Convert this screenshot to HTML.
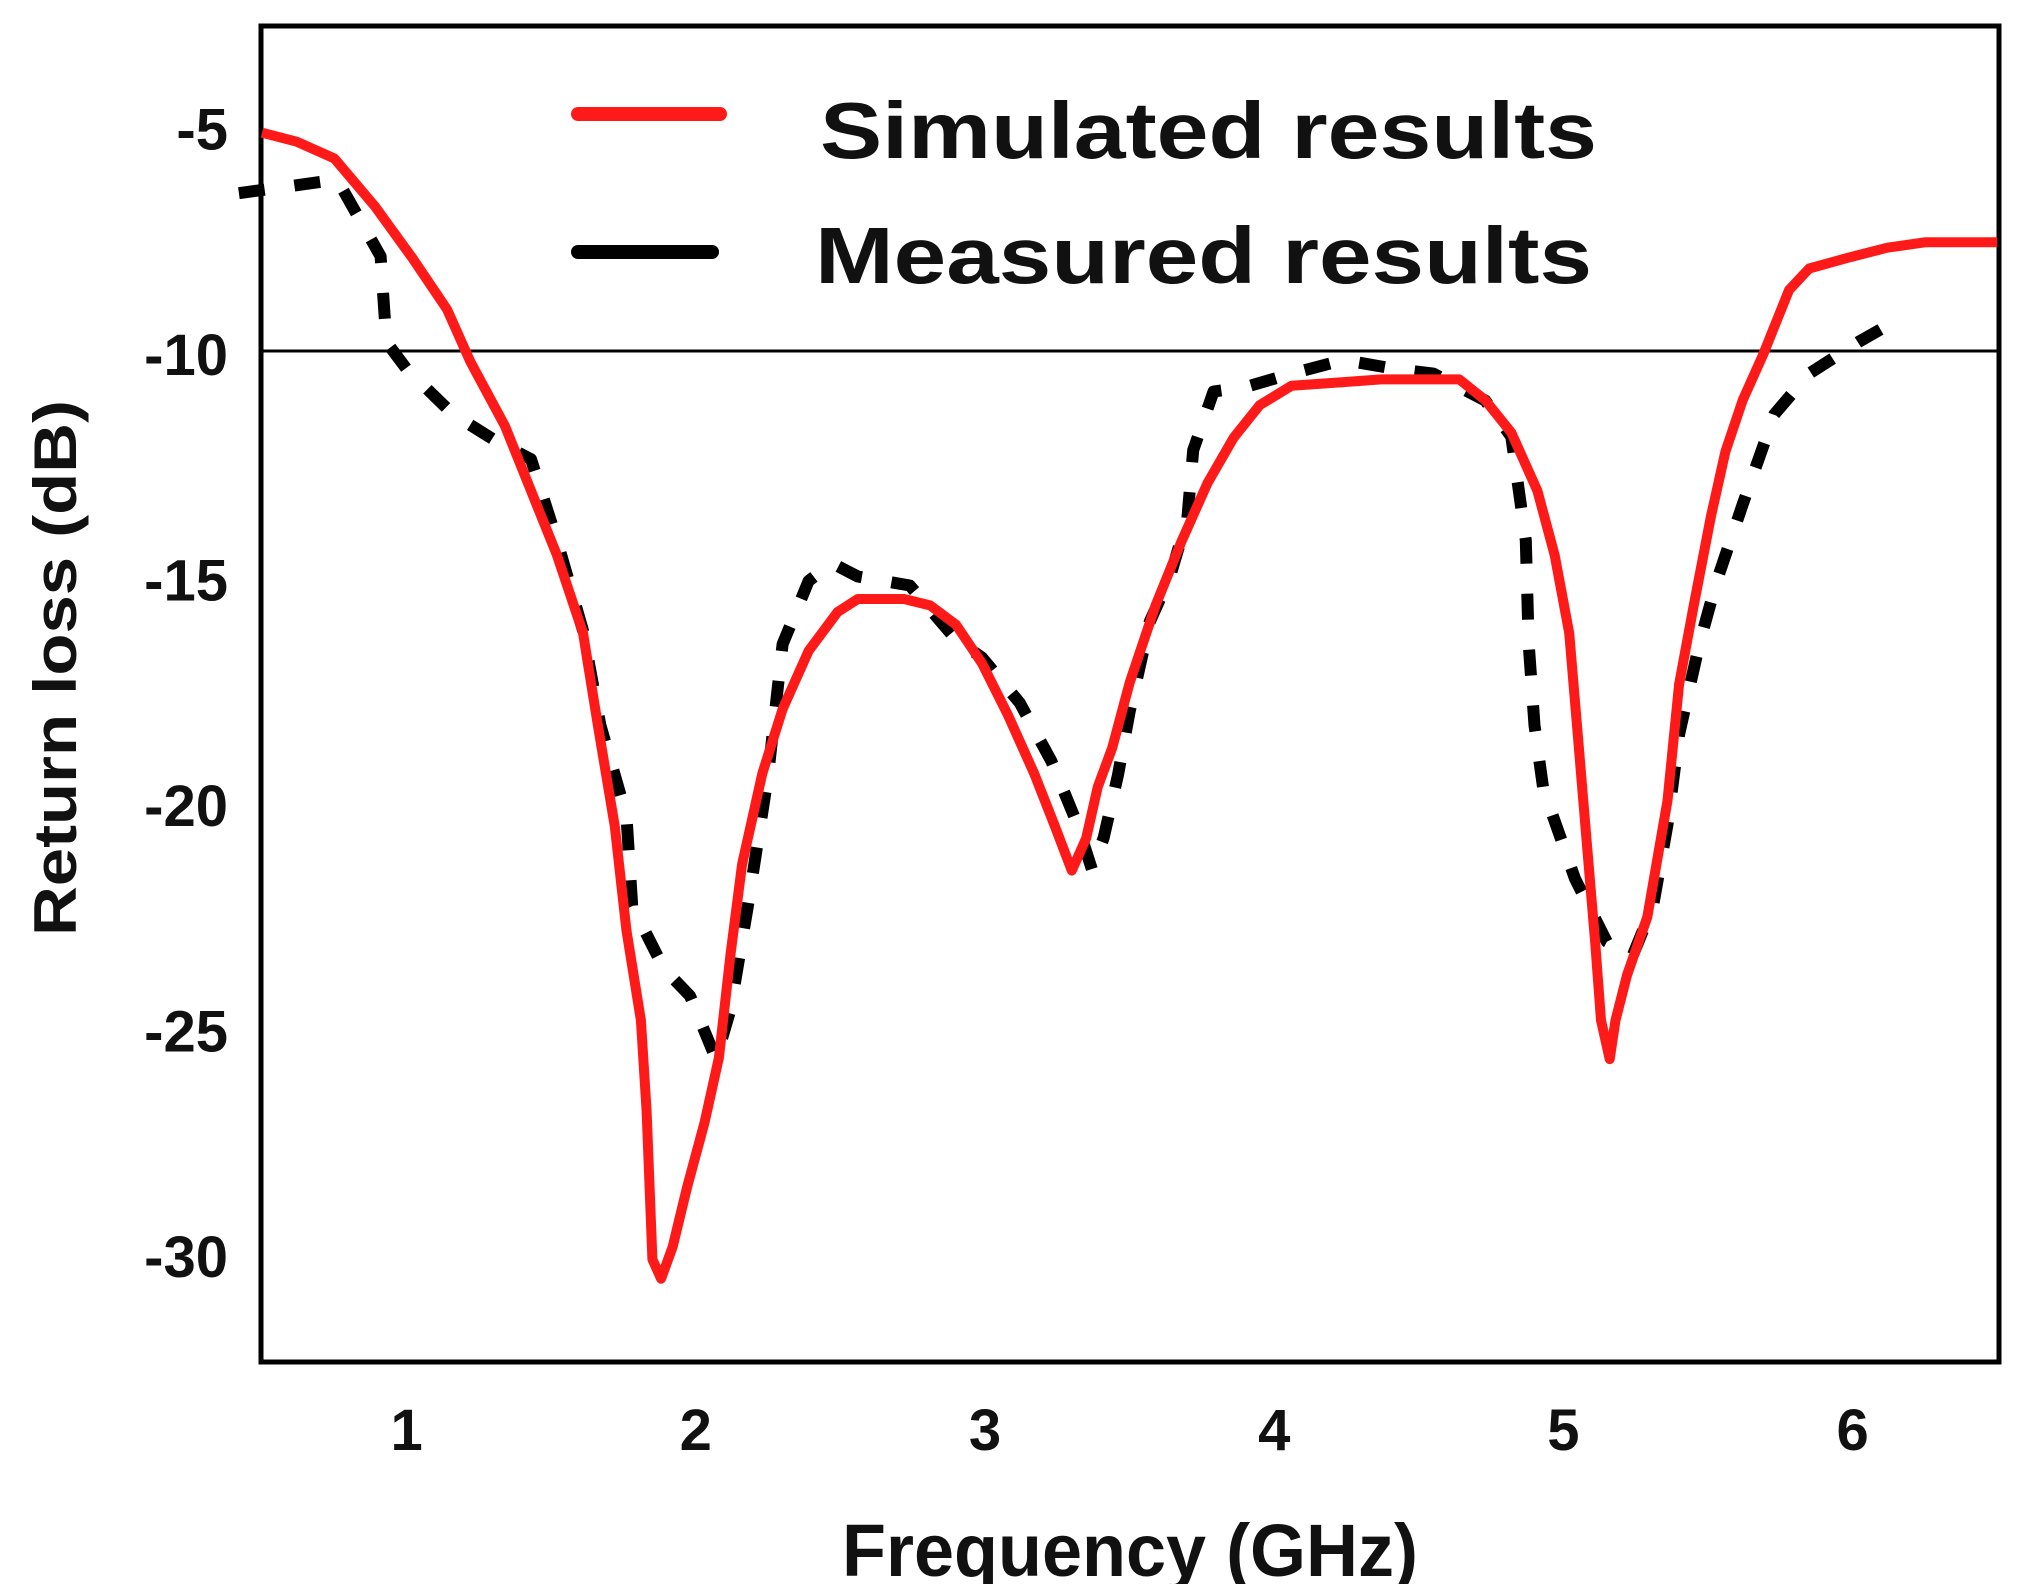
<!DOCTYPE html>
<html><head><meta charset="utf-8"><style>
html,body{margin:0;padding:0;background:#fff;}
svg{display:block;font-family:"Liberation Sans",Arial,sans-serif;}
</style></head><body>
<svg id="chart" width="2025" height="1584" viewBox="0 0 2025 1584" xmlns="http://www.w3.org/2000/svg">
<rect x="261" y="26" width="1738" height="1336" fill="none" stroke="#000" stroke-width="5"/>
<g id="grid"></g>
<g id="series"></g>
<g id="ticks"></g>
<g>
<line x1="578" y1="114" x2="720" y2="114" stroke="#ff1a1a" stroke-width="14" stroke-linecap="round"/>
<text x="820" y="158" font-size="80" font-weight="bold" fill="#111" textLength="777" lengthAdjust="spacingAndGlyphs">Simulated results</text>
<line x1="578" y1="252" x2="712" y2="252" stroke="#000" stroke-width="14" stroke-linecap="round"/>
<text x="815" y="283" font-size="80" font-weight="bold" fill="#111" textLength="777" lengthAdjust="spacingAndGlyphs">Measured results</text>
</g>
<text x="1130" y="1576" font-size="74" font-weight="bold" text-anchor="middle" fill="#111" textLength="576" lengthAdjust="spacingAndGlyphs">Frequency (GHz)</text>
<text transform="translate(76,668) rotate(-90)" font-size="60" font-weight="bold" text-anchor="middle" fill="#111" textLength="536" lengthAdjust="spacingAndGlyphs">Return loss (dB)</text>
</svg>
<script>
const xTicks = [1, 2, 3, 4, 5, 6];
const yTicks = [-5, -10, -15, -20, -25, -30];
const refLevel = [-10];
const simFreq = [0.50,0.62,0.75,0.89,1.02,1.14,1.22,1.34,1.43,1.52,1.61,1.66,1.72,1.76,1.81,1.83,1.85,1.88,1.92,1.97,2.03,2.08,2.12,2.16,2.23,2.30,2.39,2.49,2.56,2.72,2.81,2.90,2.99,3.08,3.17,3.24,3.30,3.35,3.39,3.44,3.50,3.59,3.68,3.77,3.86,3.95,4.06,4.24,4.37,4.64,4.73,4.82,4.91,4.97,5.02,5.05,5.08,5.11,5.13,5.16,5.18,5.22,5.29,5.36,5.40,5.45,5.51,5.56,5.62,5.69,5.78,5.85,5.98,6.12,6.25,6.50];
const simLoss = [-5.16,-5.36,-5.73,-6.79,-7.94,-9.08,-10.23,-11.66,-13.10,-14.53,-16.25,-18.25,-20.54,-22.84,-24.84,-26.85,-30.14,-30.57,-29.86,-28.54,-27.11,-25.67,-23.38,-21.38,-19.37,-17.94,-16.65,-15.79,-15.50,-15.50,-15.64,-16.07,-16.93,-18.08,-19.37,-20.51,-21.52,-20.80,-19.66,-18.80,-17.36,-15.64,-14.21,-12.92,-11.92,-11.20,-10.77,-10.69,-10.63,-10.63,-11.09,-11.81,-13.10,-14.53,-16.25,-18.54,-20.83,-23.12,-24.84,-25.70,-24.84,-23.84,-22.55,-19.97,-17.39,-15.67,-13.67,-12.23,-11.09,-10.09,-8.65,-8.17,-7.94,-7.71,-7.59,-7.59];
const measFreq = [0.42,0.76,0.91,0.93,1.00,1.16,1.31,1.43,1.52,1.61,1.67,1.76,1.78,1.89,1.98,2.07,2.12,2.18,2.25,2.30,2.39,2.47,2.56,2.74,2.90,2.99,3.12,3.23,3.32,3.37,3.41,3.46,3.50,3.57,3.64,3.70,3.72,3.79,3.90,4.06,4.24,4.42,4.55,4.73,4.82,4.87,4.88,4.90,4.93,5.04,5.15,5.24,5.31,5.36,5.40,5.47,5.53,5.62,5.73,5.85,6.02,6.13];
const measLoss = [-6.5,-6.2,-7.9,-9.8,-10.4,-11.4,-12.0,-12.4,-14.2,-16.2,-18.3,-20.3,-22.3,-23.7,-24.3,-25.7,-24.6,-22.3,-19.4,-16.5,-15.1,-14.7,-15.0,-15.2,-16.4,-16.8,-17.8,-19.1,-20.5,-21.5,-20.8,-19.4,-18.0,-16.0,-15.0,-13.7,-12.2,-10.9,-10.8,-10.5,-10.2,-10.4,-10.5,-11.1,-11.9,-14.2,-16.5,-18.3,-19.7,-21.7,-23.1,-23.4,-22.3,-20.5,-18.5,-16.5,-15.1,-13.4,-11.4,-10.5,-9.8,-9.4];

const NS = 'http://www.w3.org/2000/svg';
function xs(f){ return 262 + (f - 0.5) * 289.2; }
function ys(v){ return 351 + (-10 - v) * 45.1; }

const grid = document.getElementById('grid');
refLevel.forEach(v => {
  const l = document.createElementNS(NS, 'line');
  
  
  l.setAttribute('x1', 261); l.setAttribute('x2', 1999);
  l.setAttribute('y1', ys(v)); l.setAttribute('y2', ys(v));
  l.setAttribute('stroke', '#000'); l.setAttribute('stroke-width', '3');
  grid.appendChild(l);
});

const ticks = document.getElementById('ticks');
xTicks.forEach(t => {
  const tx = document.createElementNS(NS, 'text');
  
  
  tx.setAttribute('x', xs(t)); tx.setAttribute('y', 1450);
  tx.setAttribute('font-size', '58'); tx.setAttribute('font-weight', 'bold');
  tx.setAttribute('text-anchor', 'middle'); tx.setAttribute('fill', '#111');
  tx.textContent = t;
  ticks.appendChild(tx);
});
yTicks.forEach(t => {
  const tx = document.createElementNS(NS, 'text');
  
  
  tx.setAttribute('x', 228); tx.setAttribute('y', ys(t) + 24);
  tx.setAttribute('font-size', '58'); tx.setAttribute('font-weight', 'bold');
  tx.setAttribute('text-anchor', 'end'); tx.setAttribute('fill', '#111');
  tx.textContent = t;
  ticks.appendChild(tx);
});

const series = document.getElementById('series');
function pathFrom(fx, fy){
  return fx.map((f, i) => (i ? 'L' : 'M') + xs(f).toFixed(1) + ' ' + ys(fy[i]).toFixed(1)).join(' ');
}
const meas = document.createElementNS(NS, 'path');


meas.setAttribute('d', pathFrom(measFreq, measLoss));
meas.setAttribute('fill', 'none'); meas.setAttribute('stroke', '#000');
meas.setAttribute('stroke-width', '12'); meas.setAttribute('stroke-dasharray', '26 30');
meas.setAttribute('stroke-linejoin', 'round');
series.appendChild(meas);
const sim = document.createElementNS(NS, 'path');


sim.setAttribute('d', pathFrom(simFreq, simLoss));
sim.setAttribute('fill', 'none'); sim.setAttribute('stroke', '#ff1a1a');
sim.setAttribute('stroke-width', '10'); sim.setAttribute('stroke-linejoin', 'round');
series.appendChild(sim);
</script>
</body></html>
